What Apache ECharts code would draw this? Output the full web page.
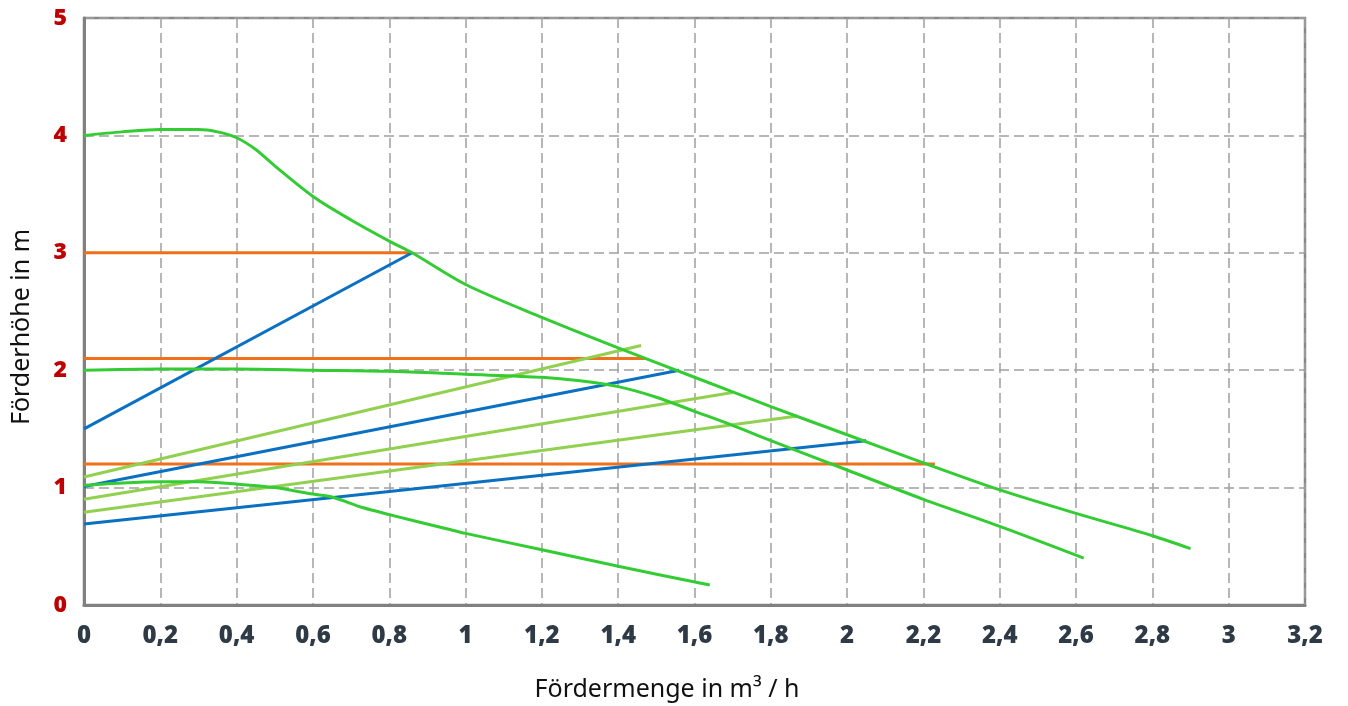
<!DOCTYPE html>
<html><head><meta charset="utf-8">
<script src="https://cdn.jsdelivr.net/npm/echarts@6/dist/echarts.min.js"></script>
<style>html,body{margin:0;padding:0;background:#fff}#c{width:1348px;height:706px}</style>
</head><body><div id="c"></div>
<script>
// Pump curves (green)
const curveA = [[0,4.0],[0.1,4.03],[0.2,4.05],[0.3,4.05],[0.35,4.03],[0.4,3.98],[0.45,3.88],[0.5,3.74],[0.6,3.48],[0.7,3.28],[0.8,3.10],[0.86,3.0],[1.0,2.73],[1.2,2.45],[1.4,2.19],[1.6,1.94],[1.8,1.69],[2.0,1.45],[2.2,1.21],[2.4,0.98],[2.6,0.78],[2.8,0.59],[2.9,0.48]];
const curveB = [[0,2.0],[0.2,2.01],[0.4,2.01],[0.6,2.0],[0.8,1.99],[1.0,1.965],[1.2,1.94],[1.3,1.91],[1.4,1.86],[1.5,1.77],[1.6,1.65],[1.7,1.53],[1.8,1.40],[2.0,1.15],[2.2,0.90],[2.4,0.67],[2.62,0.40]];
const curveC = [[0,1.02],[0.1,1.04],[0.2,1.05],[0.3,1.05],[0.4,1.03],[0.5,1.0],[0.6,0.945],[0.65,0.92],[0.73,0.83],[0.8,0.77],[0.95,0.65],[1.0,0.61],[1.2,0.47],[1.4,0.33],[1.64,0.17]];
// Orange horizontal lines
const orange1 = [[0,3.0],[0.86,3.0]];
const orange2 = [[0,2.1],[1.47,2.1]];
const orange3 = [[0,1.2],[2.23,1.2]];
// Blue lines
const blue1 = [[0,1.5],[0.86,3.0]];
const blue2 = [[0,1.01],[1.56,2.0]];
const blue3 = [[0,0.69],[2.05,1.4]];
// Light green lines
const lgreen1 = [[0,1.09],[1.46,2.21]];
const lgreen2 = [[0,0.9],[1.70,1.81]];
const lgreen3 = [[0,0.79],[1.87,1.61]];

const xName = 'Fördermenge in m³ / h';
const yName = 'Förderhöhe in m';

const GREEN = '#33cc33', LGREEN = '#92d050', BLUE = '#0a70c2', ORANGE = '#f0701a';
function line(data, color, smooth) {
  return {type:'line', data:data, symbol:'none', smooth: smooth ? 0.3 : false,
    lineStyle:{color:color, width:3}, silent:true};
}
const chart = echarts.init(document.getElementById('c'));
chart.setOption({
  animation:false,
  grid:{left:84, right:43, top:18, bottom:101, show:true, borderColor:'#888', borderWidth:2.5},
  xAxis:{type:'value', min:0, max:3.2, interval:0.2,
    axisLine:{show:true, lineStyle:{color:'#808080', width:3}},
    axisTick:{show:false},
    axisLabel:{margin:19, color:'#2e3a46', fontSize:24, fontWeight:800, fontFamily:'Open Sans',
      formatter:v => String(+v.toFixed(1)).replace('.', ',')},
    splitLine:{show:true, lineStyle:{color:'#a0a0a0', width:1.5, type:[10,5]}}},
  yAxis:{type:'value', min:0, max:5, interval:1,
    axisLine:{show:true, lineStyle:{color:'#808080', width:3}},
    axisTick:{show:false},
    axisLabel:{margin:17, color:'#c00000', fontSize:23, fontWeight:800, fontFamily:'Open Sans'},
    splitLine:{show:true, lineStyle:{color:'#a0a0a0', width:1.5, type:[10,5]}}},
  graphic:[
    {type:'text', x:667, y:690, style:{text:xName, fontSize:25, fontFamily:'Noto Sans', fill:'#111', textAlign:'center', textVerticalAlign:'middle'}},
    {type:'text', x:22, y:327, rotation:Math.PI/2, style:{text:yName, fontSize:25, fontFamily:'Noto Sans', fill:'#111', textAlign:'center', textVerticalAlign:'middle'}}
  ],
  series:[
    line(orange1, ORANGE), line(orange2, ORANGE), line(orange3, ORANGE),
    line(blue1, BLUE), line(blue2, BLUE), line(blue3, BLUE),
    line(lgreen1, LGREEN), line(lgreen2, LGREEN), line(lgreen3, LGREEN),
    line(curveA, GREEN, true), line(curveB, GREEN, true), line(curveC, GREEN, true)
  ]
});
</script></body></html>
